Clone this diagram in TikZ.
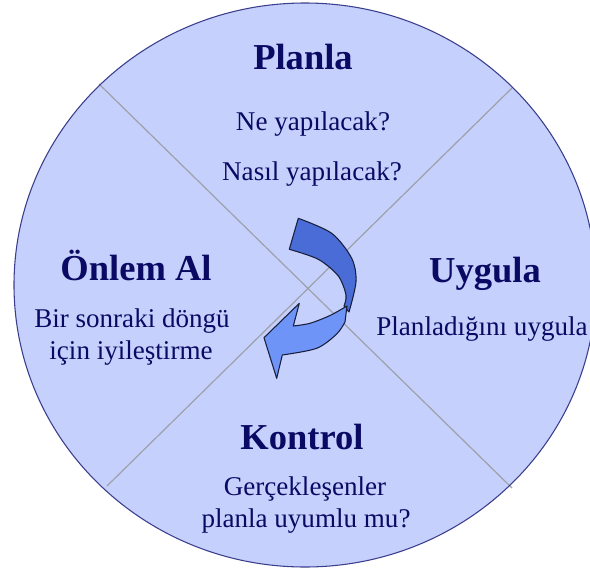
\documentclass[tikz,border=0pt]{standalone}
\usepackage{fontspec}
\setmainfont{Liberation Serif}
\usetikzlibrary{positioning}

\definecolor{diskfill}{RGB}{197,208,252}
\definecolor{diskline}{RGB}{58,62,140}
\definecolor{cutline}{RGB}{158,160,170}
\definecolor{navytext}{RGB}{10,10,100}
\definecolor{arrowdark}{RGB}{74,108,214}
\definecolor{arrowlight}{RGB}{110,148,248}
\definecolor{arrowedge}{RGB}{25,30,60}

\begin{document}
\begin{tikzpicture}[x=0.75pt,y=-0.75pt]
    \useasboundingbox (0,0) rectangle (590,572);
    \fill[diskfill] (305,285) ellipse [x radius=291, y radius=282];

    \coordinate (nw) at (99,84);
    \coordinate (ne) at (512,88);
    \coordinate (se) at (512,488);
    \coordinate (sw) at (107,486);
    \draw[cutline, line width=0.9pt] (nw) -- (se);
    \draw[cutline, line width=0.9pt] (ne) -- (sw);
    \draw[diskline, line width=0.8pt] (305,285) ellipse [x radius=291, y radius=282];

    \tikzset{every node/.style={text=navytext, anchor=base, inner sep=0pt},
             title/.style={font=\fontsize{27.4}{30}\selectfont\bfseries},
             body/.style={font=\fontsize{20.3}{24}\selectfont}}
    \node[title] at (303,69.6) (planla) {Planla};
    \node[body ] at (313,130 ) (ne1   ) {Ne yapılacak?};
    \node[body ] at (312,180 ) (ne2   ) {Nasıl yapılacak?};

    \node[title] at (136,280 ) (onlem ) {Önlem Al};
    \node[body ] at (132,327 ) (onlem1) {Bir sonraki döngü};
    \node[body ] at (131,359 ) (onlem2) {için iyileştirme};

    \node[title] at (485,282 ) (uygula) {Uygula};
    \node[body ] at (482,335 ) (uygul1) {Planladığını uygula};

    \node[title] at (302,449 ) (kontrl) {Kontrol};
    \node[body ] at (305,495 ) (kontr1) {Gerçekleşenler};
    \node[body ] at (306,527 ) (kontr2) {planla uyumlu mu?};

    % donus oku
    \draw[fill=arrowdark, draw=arrowedge, line width=0.8pt, line join=round]
        plot[smooth] coordinates {(298.3,218.3) (331.7,233.3) (351.7,258.3) (356,281.7) (349,312)}
        -- plot[smooth] coordinates {(344,306) (346,295) (338.3,276) (318.3,259.3) (289.3,249.3)}
        -- cycle;
    \draw[fill=arrowlight, draw=arrowedge, line width=0.8pt, line join=round]
        plot[smooth] coordinates {(347,306) (330,315.5) (310,323.3) (293.3,326)}
        -- (299.3,303.3) -- (264,337.7) -- (276.7,378.3)
        -- plot[smooth] coordinates {(282.3,355) (316.7,348.3) (336.7,334) (345,322)}
        -- cycle;
\end{tikzpicture}
\end{document}
